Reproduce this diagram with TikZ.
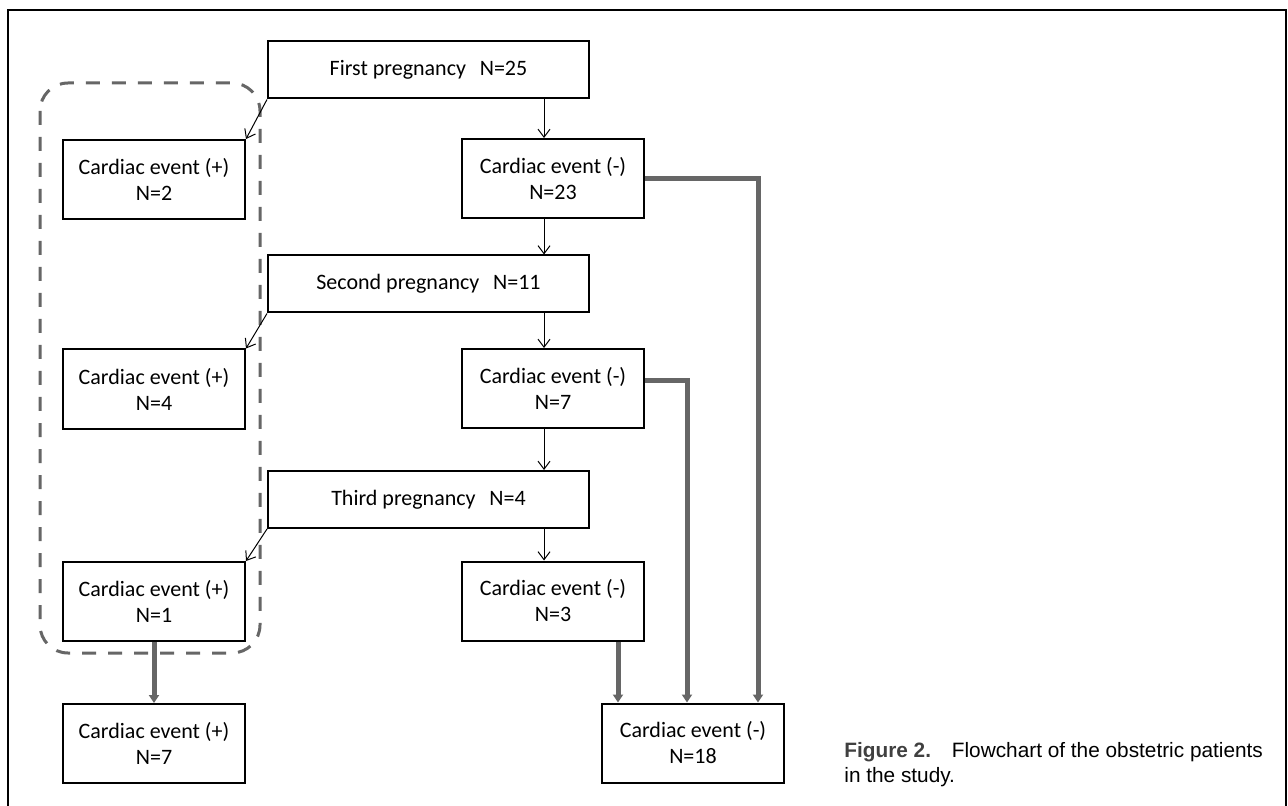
\documentclass[tikz,border=0pt]{standalone}
\usepackage{fontspec}
\setmainfont{Carlito}
\newfontfamily\capfont{Liberation Sans}
\usepackage{xcolor}
\usepackage{tikz}
\usetikzlibrary{arrows.meta, positioning}

\begin{document}
\begin{tikzpicture}[
x=0.5pt,
y=-0.5pt,
font=\fontsize{11}{13}\selectfont,
stagebox/.style={
rectangle,
draw=black,
line width=1pt,
align=center,
inner sep=0pt,
minimum width=160.5pt,
minimum height=28.5pt
},
eventbox/.style={
rectangle,
draw=black,
line width=1pt,
align=center,
inner sep=0pt,
minimum width=91pt,
minimum height=39.5pt
},
flowarrow/.style={
draw=black,
line width=0.5pt,
-{Straight Barb[length=4pt,width=6pt]}
},
sumarrow/.style={
draw=black!60,
line width=2.5pt,
-{Triangle[length=4pt,width=5pt]}
},
groupline/.style={
draw=black!60,
line width=1.5pt,
dash pattern=on 7pt off 6pt,
rounded corners=14pt
}
]

\useasboundingbox (0,0) rectangle (1288,806);

% outer frame
\draw[line width=1pt] (8,806) -- (8,10) -- (1286,10) -- (1286,806);

\node[stagebox] (first) at (428.5,70)
{First pregnancy\hspace{0.4em} N=25};

\node[eventbox] (pos1) at (154,179.5)
{Cardiac event (+)\\N=2};

\node[eventbox] (neg1) at (553,178.5)
{Cardiac event (-)\\N=23};

\node[stagebox] (second) at (428.5,284)
{Second pregnancy\hspace{0.4em} N=11};

\node[eventbox] (pos2) at (154,389)
{Cardiac event (+)\\N=4};

\node[eventbox] (neg2) at (553,388.5)
{Cardiac event (-)\\N=7};

\node[stagebox] (third) at (428.5,499.5)
{Third pregnancy\hspace{0.4em} N=4};

\node[eventbox] (pos3) at (154,601.5)
{Cardiac event (+)\\N=1};

\node[eventbox] (neg3) at (553,601)
{Cardiac event (-)\\N=3};

\node[eventbox] (postotal) at (154,743.5)
{Cardiac event (+)\\N=7};

\node[eventbox] (negtotal) at (693,743)
{Cardiac event (-)\\N=18};

% dashed group round the (+) events
\draw[groupline] (40,83) rectangle (260,653);

% thin arrows
\draw[flowarrow] (first.south west) -- (pos1.north east);
\draw[flowarrow] (second.south west) -- (pos2.north east);
\draw[flowarrow] (third.south west) -- (pos3.north east);
\draw[flowarrow] ([xshift=-4.5pt]neg1.north |- first.south) -- ([xshift=-4.5pt]neg1.north);
\draw[flowarrow] ([xshift=-4.5pt]neg1.south) -- ([xshift=-4.5pt]neg1.south |- second.north);
\draw[flowarrow] ([xshift=-4.5pt]neg2.north |- second.south) -- ([xshift=-4.5pt]neg2.north);
\draw[flowarrow] ([xshift=-4.5pt]neg2.south) -- ([xshift=-4.5pt]neg2.south |- third.north);
\draw[flowarrow] ([xshift=-4.5pt]neg3.north |- third.south) -- ([xshift=-4.5pt]neg3.north);

% thick arrows to the totals
\draw[sumarrow] (pos3.south) -- (postotal.north);
\draw[sumarrow] ([xshift=32.5pt]neg3.south) -- ([xshift=32.5pt]neg3.south |- negtotal.north);
\draw[sumarrow] ([yshift=4pt]neg2.east) -| ([xshift=-3pt]negtotal.north);
\draw[sumarrow] (neg1.east) -| ([xshift=32.5pt]negtotal.north);

\node[anchor=north west, inner sep=0pt, align=left,
font=\capfont\fontsize{10.4}{12.5}\selectfont] (caption) at (844,742)
{{\bfseries\color{black!75}Figure 2.}\hspace{1em}Flowchart of the obstetric patients\\in the study.};

\end{tikzpicture}
\end{document}
